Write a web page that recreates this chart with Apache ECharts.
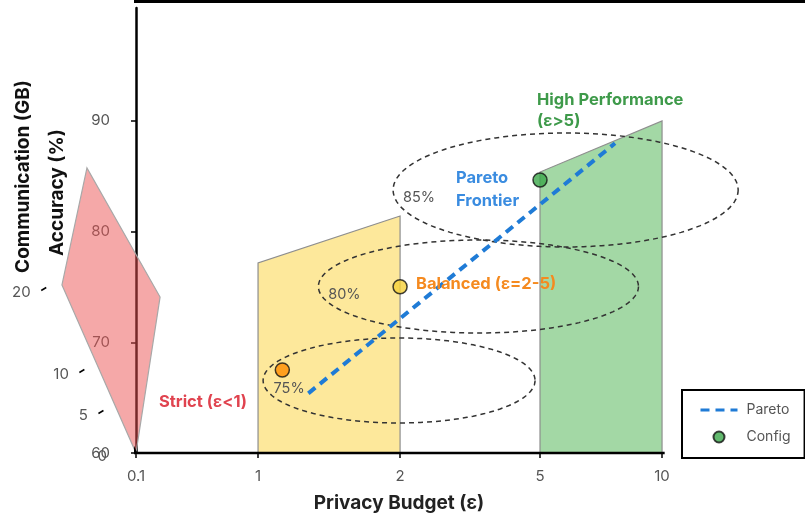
<!DOCTYPE html>
<html>
<head>
<meta charset="utf-8">
<script src="https://cdn.jsdelivr.net/npm/echarts@6/dist/echarts.min.js"></script>
<style>
  html, body { margin: 0; padding: 0; background: #fff; }
  #chart { width: 805px; height: 517px; }
</style>
</head>
<body>
<div id="chart"></div>
<script>
// Privacy budget ticks and where each one sits along the horizontal scale
const epsTicks = [0.1, 1, 2, 5, 10];
const epsSlots = [0, 0.928, 2.008, 3.072, 4.0];
const accTicks = [60, 70, 80, 90];
const commTicks = [0, 5, 10, 20];
const commAxisMax = 25.7;

// Privacy regimes: epsilon span and accuracy at each edge
const regionNames = ['Balanced', 'High Performance'];
const regionEps = [[1, 2], [5, 10]];
const regionAcc = [[77.16, 81.41], [85.38, 90.0]];
// Strict regime outline, as [axis slot, accuracy]
const strictOutline = [[0, 60], [-0.563, 75.18], [-0.373, 85.75], [0.183, 74.09]];

// Evaluated configurations
const configNames = ['Strict', 'Balanced', 'High Performance'];
const configEps = [1.171, 2, 5];
const configAcc = [67.5, 75.02, 84.66];

// Pareto frontier end points
const paretoEps = [1.354, 8.074];
const paretoAcc = [65.39, 87.98];

// Accuracy contours
const contourLabels = ['75%', '80%', '85%'];
const contourEps = [1.993, 3.68, 6.05];
const contourAcc = [66.55, 75.04, 83.76];
const contourHalfWidth = [1.034, 1.217, 1.312]; // axis slots
const contourHalfHeight = [3.84, 4.2, 5.15];    // accuracy points

// Piecewise-linear epsilon scale
function epsToSlot(e) {
  for (let i = 0; i < epsTicks.length - 1; i++) {
    if (e <= epsTicks[i + 1] || i === epsTicks.length - 2) {
      const t = (e - epsTicks[i]) / (epsTicks[i + 1] - epsTicks[i]);
      return epsSlots[i] + t * (epsSlots[i + 1] - epsSlots[i]);
    }
  }
}
// Oblique communication axis, running up and to the left from the origin
const commSlotPerGB = -0.029;
const commAccPerGB = 0.7407;
function commToGrid(v) { return [v * commSlotPerGB, 60 + v * commAccPerGB]; }

const FONT = 'Inter, Roboto, sans-serif';
const regionFill = ['#fde89b', '#a3d8a5'];
const configColors = ['#ff8c00', '#f6d13a', '#3ba74a'];

const chart = echarts.init(document.getElementById('chart'));

chart.setOption({
  animation: false,
  backgroundColor: '#fff',
  grid: { left: 136, right: 0, top: 8, bottom: 64, containLabel: false, outerBoundsMode: 'none' },
  xAxis: {
    type: 'value', min: 0, max: 5.087,
    axisLine: { show: false },
    splitLine: { show: false },
    axisTick: { show: true, customValues: epsSlots, length: 5, lineStyle: { color: '#000', width: 1.5 } },
    axisLabel: {
      show: true, customValues: epsSlots, margin: 16, color: '#555', fontSize: 15, fontFamily: FONT,
      formatter: v => {
        let best = 0;
        epsSlots.forEach((s, i) => { if (Math.abs(s - v) < Math.abs(epsSlots[best] - v)) best = i; });
        return String(epsTicks[best]);
      }
    }
  },
  yAxis: {
    type: 'value', min: 60, max: 100.2,
    axisLine: { show: true, onZero: false, lineStyle: { color: '#000', width: 2.5 } },
    splitLine: { show: false },
    axisTick: { show: true, customValues: accTicks, length: 5, lineStyle: { color: '#000', width: 1.5 } },
    axisLabel: { show: true, customValues: accTicks, margin: 26, color: '#555', fontSize: 15, fontFamily: FONT }
  },
  legend: {
    orient: 'vertical', left: 682, top: 390,
    padding: [13, 14, 14, 17], itemGap: 13, itemWidth: 37, itemHeight: 11,
    borderColor: '#000', borderWidth: 2, borderRadius: 0, backgroundColor: '#fff',
    textStyle: { color: '#555', fontSize: 14, fontFamily: FONT, padding: [0, 0, 0, 4] },
    lineStyle: { width: 3 },
    data: [
      { name: 'Pareto', itemStyle: { color: 'rgba(0,0,0,0)', borderColor: 'rgba(0,0,0,0)', borderWidth: 0 } },
      { name: 'Config', icon: 'circle' }
    ]
  },
  graphic: [
    { type: 'text', x: 23.5, y: 176.5, rotation: Math.PI / 2, z: 30,
      style: { text: 'Communication (GB)', font: `bold 19px ${FONT}`, fill: '#111', align: 'center', verticalAlign: 'middle' } },
    { type: 'text', x: 57.5, y: 192.5, rotation: Math.PI / 2, z: 30,
      style: { text: 'Accuracy (%)', font: `bold 19px ${FONT}`, fill: '#111', align: 'center', verticalAlign: 'middle' } },
    { type: 'text', x: 399, y: 503, z: 30,
      style: { text: 'Privacy Budget (ε)', font: `bold 19px ${FONT}`, fill: '#222', align: 'center', verticalAlign: 'middle' } },
    { type: 'text', x: 203, y: 402, z: 30,
      style: { text: 'Strict (ε<1)', font: `bold 16.5px ${FONT}`, fill: '#e0434f', align: 'center', verticalAlign: 'middle' } },
    { type: 'text', x: 416, y: 284, z: 30,
      style: { text: 'Balanced (ε=2-5)', font: `bold 16.5px ${FONT}`, fill: '#f58a1f', align: 'left', verticalAlign: 'middle' } },
    { type: 'text', x: 537, y: 89.5, z: 30,
      style: { text: 'High Performance\n(ε>5)', font: `bold 16.5px ${FONT}`, lineHeight: 21, fill: '#3e9a4a', align: 'left', verticalAlign: 'top' } },
    { type: 'text', x: 456, y: 167, z: 30,
      style: { text: 'Pareto\nFrontier', font: `bold 16.5px ${FONT}`, lineHeight: 23, fill: '#3a8ce0', align: 'left', verticalAlign: 'top' } }
  ],
  series: [
    {
      // Balanced and high-performance regime panels
      type: 'custom', z: 2, silent: true,
      data: regionNames.map((n, i) => [epsToSlot(regionEps[i][0]), epsToSlot(regionEps[i][1]), regionAcc[i][0], regionAcc[i][1]]),
      renderItem(params, api) {
        const i = params.dataIndex;
        const pts = [
          api.coord([api.value(0), 60]),
          api.coord([api.value(0), api.value(2)]),
          api.coord([api.value(1), api.value(3)]),
          api.coord([api.value(1), 60])
        ];
        return { type: 'polygon', shape: { points: pts }, style: { fill: regionFill[i], stroke: '#8e8e8e', lineWidth: 1.2 } };
      }
    },
    {
      // Strict regime panel
      type: 'custom', z: 3, silent: true, clip: false,
      data: [0],
      renderItem(params, api) {
        return {
          type: 'polygon',
          shape: { points: strictOutline.map(p => api.coord(p)) },
          style: { fill: 'rgba(236,82,82,0.5)', stroke: '#a8a8a8', lineWidth: 1.2 }
        };
      }
    },
    {
      // Accuracy contours
      type: 'custom', z: 4, silent: true, clip: false,
      data: contourLabels.map((l, i) => [epsToSlot(contourEps[i]), contourAcc[i], contourHalfWidth[i], contourHalfHeight[i]]),
      renderItem(params, api) {
        const i = params.dataIndex;
        const c = api.coord([api.value(0), api.value(1)]);
        const s = api.size([api.value(2), api.value(3)]);
        const pts = [];
        for (let k = 0; k < 120; k++) {
          const t = k / 120 * Math.PI * 2;
          pts.push([c[0] + s[0] * Math.cos(t), c[1] + s[1] * Math.sin(t)]);
        }
        return {
          type: 'group',
          children: [
            { type: 'polygon', shape: { points: pts }, style: { fill: 'none', stroke: '#333', lineWidth: 1.5, lineDash: [5, 4] } },
            { type: 'text', x: c[0] - s[0] + 26, y: c[1] + 8,
              style: { text: contourLabels[i], font: `14.5px ${FONT}`, fill: '#555', align: 'center', verticalAlign: 'middle' } }
          ]
        };
      }
    },
    {
      // Communication axis line
      type: 'line', z: 5, silent: true, clip: false, symbol: 'none',
      data: [commToGrid(0), commToGrid(commAxisMax)],
      lineStyle: { color: '#000', width: 2.5 }
    },
    {
      // Communication axis ticks and labels
      type: 'custom', z: 5, silent: true, clip: false,
      data: commTicks.map(v => commToGrid(v).concat([v])),
      renderItem(params, api) {
        const p = api.coord([api.value(0), api.value(1)]);
        const v = api.value(2);
        const tx = p[0] - 16;
        const children = [
          { type: 'text', x: tx - 13, y: p[1] + 3,
            style: { text: String(v), font: `15px ${FONT}`, fill: '#555', align: 'right', verticalAlign: 'middle' } }
        ];
        if (v > 0) {
          children.push({ type: 'line', shape: { x1: tx - 2.5, y1: p[1] + 1.5, x2: tx + 2.5, y2: p[1] - 1.5 },
            style: { stroke: '#000', lineWidth: 1.5 } });
        }
        return { type: 'group', children };
      }
    },
    {
      // Privacy budget baseline
      type: 'line', z: 5, silent: true, clip: false, symbol: 'none',
      data: [[-0.045, 60], [4.02, 60]],
      lineStyle: { color: '#000', width: 2.5 }
    },
    {
      // Upper frame edge
      type: 'line', z: 5, silent: true, clip: false, symbol: 'none',
      data: [[-0.593, 100.79], [5.087, 100.79]],
      lineStyle: { color: '#000', width: 3 }
    },
    {
      name: 'Pareto',
      type: 'line', z: 6, silent: true, symbol: 'none',
      data: paretoEps.map((e, i) => [epsToSlot(e), paretoAcc[i]]),
      itemStyle: { color: '#1f7bd6' },
      lineStyle: { color: '#1f7bd6', width: 4, type: [9, 6] }
    },
    {
      name: 'Config',
      type: 'scatter', z: 7, silent: true,
      symbol: 'circle', symbolSize: 14,
      itemStyle: { color: configColors[2], borderColor: '#111', borderWidth: 1.5 },
      data: configNames.map((n, i) => ({
        name: n,
        value: [epsToSlot(configEps[i]), configAcc[i]],
        itemStyle: { color: configColors[i] }
      }))
    }
  ]
});
</script>
</body>
</html>
